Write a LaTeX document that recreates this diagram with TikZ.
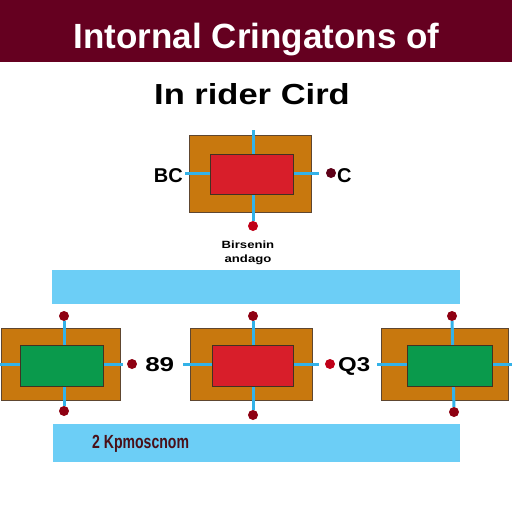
\documentclass[tikz,border=0pt]{standalone}
\usepackage{fontspec}
\setmainfont{Liberation Sans}
\definecolor{banner}{HTML}{650020}
\definecolor{outerc}{HTML}{C8780E}
\definecolor{outerb}{HTML}{5E4630}
\definecolor{innerred}{HTML}{D81E2A}
\definecolor{innergreen}{HTML}{0A9A4C}
\definecolor{wire}{HTML}{33B2E8}
\definecolor{band}{HTML}{6CCEF6}
\definecolor{dotred}{HTML}{8E0012}
\definecolor{dotbright}{HTML}{C00018}
\definecolor{dotdark}{HTML}{5E0018}
\definecolor{labeldark}{HTML}{4A1018}
\tikzset{
  outerbox/.style={draw=outerb, line width=0.8pt, fill=outerc},
  innerbox/.style={draw=outerb!70!black, line width=0.6pt},
  wireline/.style={wire, line width=3pt},
  terminal/.style={circle, fill=dotred, inner sep=0pt, minimum size=10pt},
  bandbox/.style={fill=band},
  txt/.style={inner sep=0pt, font=\fontsize{20}{24}\selectfont\bfseries},
  tinytxt/.style={inner sep=0pt, anchor=base, font=\fontsize{10.5}{12}\selectfont\bfseries, xscale=1.25},
}
\begin{document}
\begin{tikzpicture}[x=1pt, y=-1pt]
\useasboundingbox (0,0) rectangle (512,512);
\fill[white] (0,0) rectangle (512,512);
% banner
\fill[banner] (0,0) rectangle (512,61.5);
\node[inner sep=0pt, anchor=base, text=white, font=\fontsize{35}{40}\selectfont\bfseries] (title) at (256.5,48) {Intornal Cringatons of};
\node[inner sep=0pt, anchor=base, font=\fontsize{29}{34}\selectfont\bfseries, xscale=1.19] (subtitle) at (252,104) {In rider Cird};

% top module
\node[outerbox, minimum width=122pt, minimum height=77pt, inner sep=0pt, anchor=north west] (t-out) at (189,135) {};
\coordinate (t-top) at (253,130);
\coordinate (t-left) at (185,173);
\coordinate (t-right) at (319,173);
\node[terminal, fill=dotbright] (t-dot-b) at (253,226) {};
\node[terminal, fill=dotdark] (t-dot-r) at (331,173) {};
\draw[wireline] (t-top) -- (t-dot-b);
\draw[wireline] (t-left) -- (t-right);
\node[innerbox, fill=innerred, minimum width=83pt, minimum height=40pt, inner sep=0pt, anchor=north west] (t-in) at (210,154) {};
\node[txt, anchor=base east] (t-lab-l) at (183,182) {BC};
\node[txt, anchor=base west] (t-lab-r) at (337,182) {C};
\node[tinytxt] (t-cap1) at (248,248) {Birsenin};
\node[tinytxt] (t-cap2) at (248,262) {andago};

% upper band
\node[bandbox, minimum width=408pt, minimum height=34pt, inner sep=0pt, anchor=north west] (band1) at (52,270) {};

% bottom left module
\node[outerbox, minimum width=119pt, minimum height=72pt, inner sep=0pt, anchor=north west] (l-out) at (1,328) {};
\node[terminal] (l-dot-t) at (64,316) {};
\node[terminal] (l-dot-b) at (64,411) {};
\node[terminal] (l-dot-r) at (132,364) {};
\coordinate (l-left) at (0,364);
\coordinate (l-right) at (123,364);
\draw[wireline] (l-dot-t) -- (l-dot-b);
\draw[wireline] (l-left) -- (l-right);
\node[innerbox, fill=innergreen, minimum width=83pt, minimum height=41pt, inner sep=0pt, anchor=north west] (l-in) at (20,344.5) {};
\node[txt, anchor=base west, xscale=1.3] (l-lab) at (145,371) {89};

% bottom middle module
\node[outerbox, minimum width=122pt, minimum height=72pt, inner sep=0pt, anchor=north west] (m-out) at (190,328) {};
\node[terminal] (m-dot-t) at (253,316) {};
\node[terminal] (m-dot-b) at (253,415) {};
\node[terminal, fill=dotbright] (m-dot-r) at (330,364) {};
\coordinate (m-left) at (183,364);
\coordinate (m-right) at (319,364);
\draw[wireline] (m-dot-t) -- (m-dot-b);
\draw[wireline] (m-left) -- (m-right);
\node[innerbox, fill=innerred, minimum width=81pt, minimum height=41pt, inner sep=0pt, anchor=north west] (m-in) at (212,344.5) {};
\node[txt, anchor=base west, xscale=1.2] (m-lab) at (338,371) {Q3};

% bottom right module
\node[outerbox, minimum width=127pt, minimum height=72pt, inner sep=0pt, anchor=north west] (r-out) at (381,328) {};
\node[terminal] (r-dot-t) at (452,316) {};
\node[terminal] (r-dot-b) at (454,412) {};
\coordinate (r-left) at (377,364);
\coordinate (r-right) at (512,364);
\draw[wireline] (r-dot-t) -- (r-dot-b);
\draw[wireline] (r-left) -- (r-right);
\node[innerbox, fill=innergreen, minimum width=85pt, minimum height=41pt, inner sep=0pt, anchor=north west] (r-in) at (407,344.5) {};

% lower band
\node[bandbox, minimum width=407pt, minimum height=38pt, inner sep=0pt, anchor=north west] (band2) at (53,424) {};
\node[inner sep=0pt, anchor=base west, text=labeldark, font=\fontsize{19}{22}\selectfont\bfseries, xscale=0.74] (b-lab) at (92,448) {2 Kpmoscnom};
\end{tikzpicture}
\end{document}
